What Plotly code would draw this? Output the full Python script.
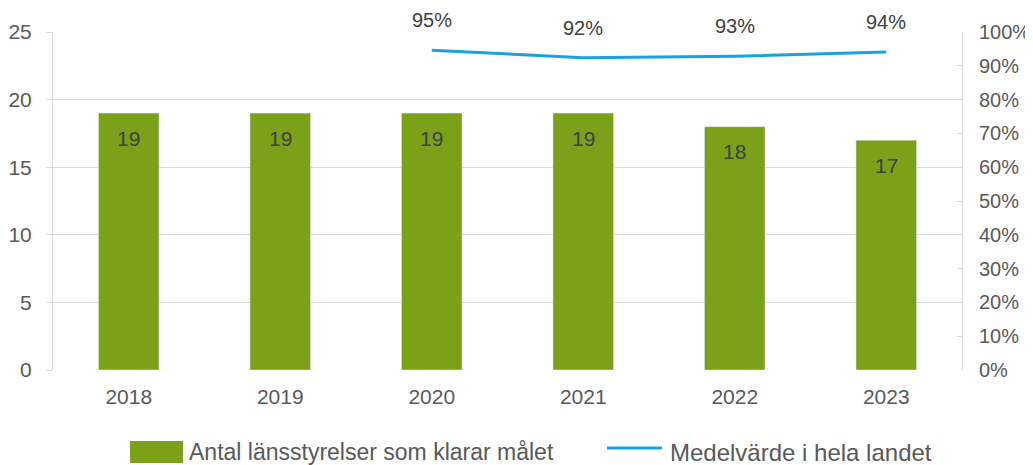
import plotly.graph_objects as go

years = ["2018", "2019", "2020", "2021", "2022", "2023"]
antal = [19, 19, 19, 19, 18, 17]
line_years = ["2020", "2021", "2022", "2023"]
medel = [0.946, 0.924, 0.928, 0.941]
bar_name = "Antal länsstyrelser som klarar målet"
line_name = "Medelvärde i hela landet"

font = "Liberation Sans, Arial, sans-serif"
grey = "#595959"
dark = "#404040"
grid = "#D9D9D9"
green = "#7BA11A"
blue = "#1BA1E2"

fig = go.Figure()
fig.add_trace(go.Bar(
    x=years, y=antal, name=bar_name, marker_color=green,
    width=0.4, showlegend=False,
))
fig.add_trace(go.Scatter(
    x=line_years, y=medel, name=line_name, mode="lines",
    line=dict(color=blue, width=3), yaxis="y2", showlegend=False,
))
for xv, yv in zip(years, antal):
    fig.add_annotation(x=years.index(xv), y=yv, text=str(yv), showarrow=False, yshift=-25,
                       font=dict(family=font, size=21, color=dark))
for xv, yv in zip(line_years, medel):
    fig.add_annotation(x=years.index(xv), y=yv, yref="y2", text=f"{round(yv*100)}%",
                       showarrow=False, yshift=30,
                       font=dict(family=font, size=20, color=dark))

# manual legend
fig.add_shape(type="rect", xref="paper", yref="paper", x0=0.0847, x1=0.143,
              y0=-0.275, y1=-0.210, fillcolor=green, line_width=0)
fig.add_annotation(xref="paper", yref="paper", x=0.1474, y=-0.243, xanchor="left",
                   yanchor="middle", text=bar_name, showarrow=False,
                   font=dict(family=font, size=23, color=grey))
fig.add_shape(type="line", xref="paper", yref="paper", x0=0.6095, x1=0.670,
              y0=-0.231, y1=-0.231, line=dict(color=blue, width=3))
fig.add_annotation(xref="paper", yref="paper", x=0.6766, y=-0.243, xanchor="left",
                   yanchor="middle", text=line_name, showarrow=False,
                   font=dict(family=font, size=24, color=grey))

fig.update_layout(
    width=1033, height=465,
    margin=dict(l=45, r=79, t=24, b=103),
    plot_bgcolor="white", paper_bgcolor="white",
    font=dict(family=font, size=21, color=grey),
    showlegend=False,
    xaxis=dict(type="category", range=[-0.5, 5.5], showgrid=False, showline=False,
               ticks="outside", ticklen=8, tickcolor="rgba(0,0,0,0)", automargin=False,
               tickfont=dict(size=21, color=grey)),
    yaxis=dict(range=[0, 25], dtick=5, showgrid=True, gridcolor=grid, gridwidth=1,
               showline=True, linecolor=grid, linewidth=1, ticks="outside",
               tickcolor=grid, ticklen=6, zeroline=False, ticklabelstandoff=10,
               automargin=False, tickfont=dict(size=21, color=grey)),
    yaxis2=dict(range=[0, 1], dtick=0.1, tickformat=".0%", overlaying="y", side="right",
                showgrid=False, showline=True, linecolor=grid, linewidth=1,
                ticks="inside", tickcolor=grid, ticklen=5, zeroline=False,
                ticklabelstandoff=12, automargin=False,
                tickfont=dict(size=20, color=grey)),
)

fig.write_html("out.html")
